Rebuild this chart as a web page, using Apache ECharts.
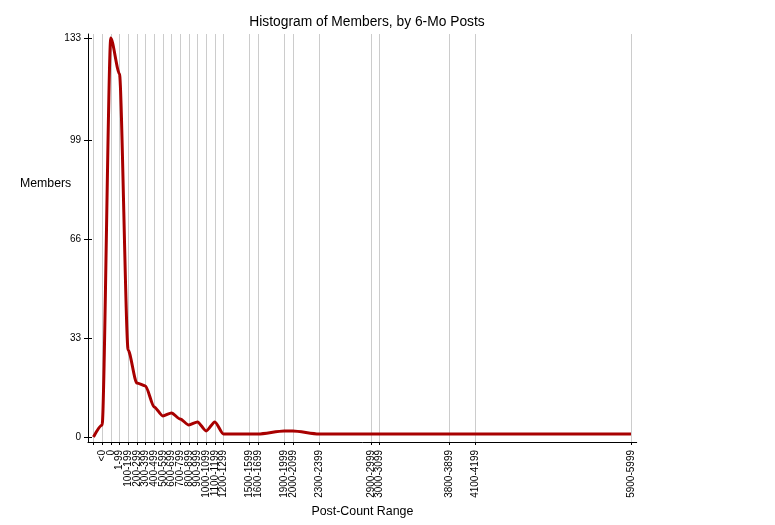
<!DOCTYPE html>
<html>
<head>
<meta charset="utf-8">
<script src="https://cdn.jsdelivr.net/npm/echarts@6/dist/echarts.min.js"></script>
<style>
html,body{margin:0;padding:0;background:#fff;}
#chart{width:775px;height:525px;}
</style>
</head>
<body>
<div id="chart"></div>
<script>
// Bin labels and their positions along the x scale (one unit per 100-post bin)
const categories = ['', '<0', '0', '1-99', '100-199', '200-299', '300-399', '400-499', '500-599',
  '600-699', '700-799', '800-899', '900-999', '1000-1099', '1100-1199', '1200-1299',
  '1500-1599', '1600-1699', '1900-1999', '2000-2099', '2300-2399', '2900-2999',
  '3000-3099', '3800-3899', '4100-4199', '5900-5999'];
const positions = [0, 1, 2, 3, 4, 5, 6, 7, 8, 9, 10, 11, 12, 13, 14, 15,
  18, 19, 22, 23, 26, 32, 33, 41, 44, 62];
const members = [0, 4, 133, 121, 29, 18, 17, 10, 7, 8, 6, 4, 5, 2, 5, 1,
  1, 1, 2, 2, 1, 1, 1, 1, 1, 1];
const yTicks = [0, 33, 66, 99, 133];

const FONT = 'Liberation Sans, Arial, Helvetica, sans-serif';
const xMin = -0.63, xMax = 62.66, yMin = -1.67, yMax = 134.3;

const chart = echarts.init(document.getElementById('chart'), null, {renderer: 'canvas'});
const lineData = positions.map((p, i) => [p, members[i]]);

chart.setOption({
  animation: false,
  backgroundColor: '#ffffff',
  title: {
    text: 'Histogram of Members, by 6-Mo Posts',
    left: 362, top: 10, textAlign: 'center',
    textStyle: {fontFamily: FONT, fontSize: 13.8, fontWeight: 'normal', color: '#000'}
  },
  grid: {left: 88, right: 138.3, top: 34, bottom: 83, containLabel: false},
  xAxis: [{
    type: 'value', min: xMin, max: xMax, position: 'bottom',
    name: 'Post-Count Range', nameLocation: 'middle', nameGap: 58,
    nameTextStyle: {fontFamily: FONT, fontSize: 12.4, color: '#000'},
    axisLine: {show: true, onZero: false, lineStyle: {color: '#000', width: 1}},
    axisTick: {show: true, length: 3, inside: false, customValues: positions, lineStyle: {color: '#000', width: 1}},
    axisLabel: {
      show: true, rotate: 90, margin: 8, customValues: positions,
      showMinLabel: true, showMaxLabel: true,
      fontFamily: FONT, fontSize: 10, lineHeight: 7, color: '#000',
      formatter: v => { const i = positions.indexOf(v); return i >= 0 ? categories[i] : ''; }
    },
    splitLine: {show: false}
  }, {
    type: 'value', min: xMin, max: xMax, position: 'bottom',
    axisLine: {show: false, onZero: false},
    axisTick: {show: true, length: 2, inside: true, customValues: positions, lineStyle: {color: '#000', width: 1}},
    axisLabel: {show: false},
    splitLine: {show: false}
  }],
  yAxis: [{
    type: 'value', min: yMin, max: yMax, position: 'left',
    axisLine: {show: true, onZero: false, lineStyle: {color: '#000', width: 1}},
    axisTick: {show: true, length: 4, inside: false, customValues: yTicks, lineStyle: {color: '#000', width: 1}},
    axisLabel: {show: true, margin: 7, customValues: yTicks, fontFamily: FONT, fontSize: 10, color: '#000'},
    splitLine: {show: false}
  }, {
    type: 'value', min: yMin, max: yMax, position: 'left',
    axisLine: {show: false, onZero: false},
    axisTick: {show: true, length: 4, inside: true, customValues: yTicks, lineStyle: {color: '#000', width: 1}},
    axisLabel: {show: false},
    splitLine: {show: false}
  }],
  graphic: [{
    type: 'text', left: 20, top: 178,
    style: {text: 'Members', font: '12.3px ' + FONT, fill: '#000'}
  }],
  series: [{
    type: 'line',
    xAxisIndex: 0, yAxisIndex: 0,
    data: lineData,
    showSymbol: false,
    symbol: 'none',
    smooth: 0.25,
    smoothMonotone: 'x',
    z: 10,
    lineStyle: {color: '#a80000', width: 3},
    markLine: {
      silent: true, symbol: ['none', 'none'], z: 1,
      label: {show: false},
      lineStyle: {color: '#cccccc', width: 1, type: 'solid'},
      data: positions.map(p => ({xAxis: p}))
    }
  }]
});
</script>
</body>
</html>
